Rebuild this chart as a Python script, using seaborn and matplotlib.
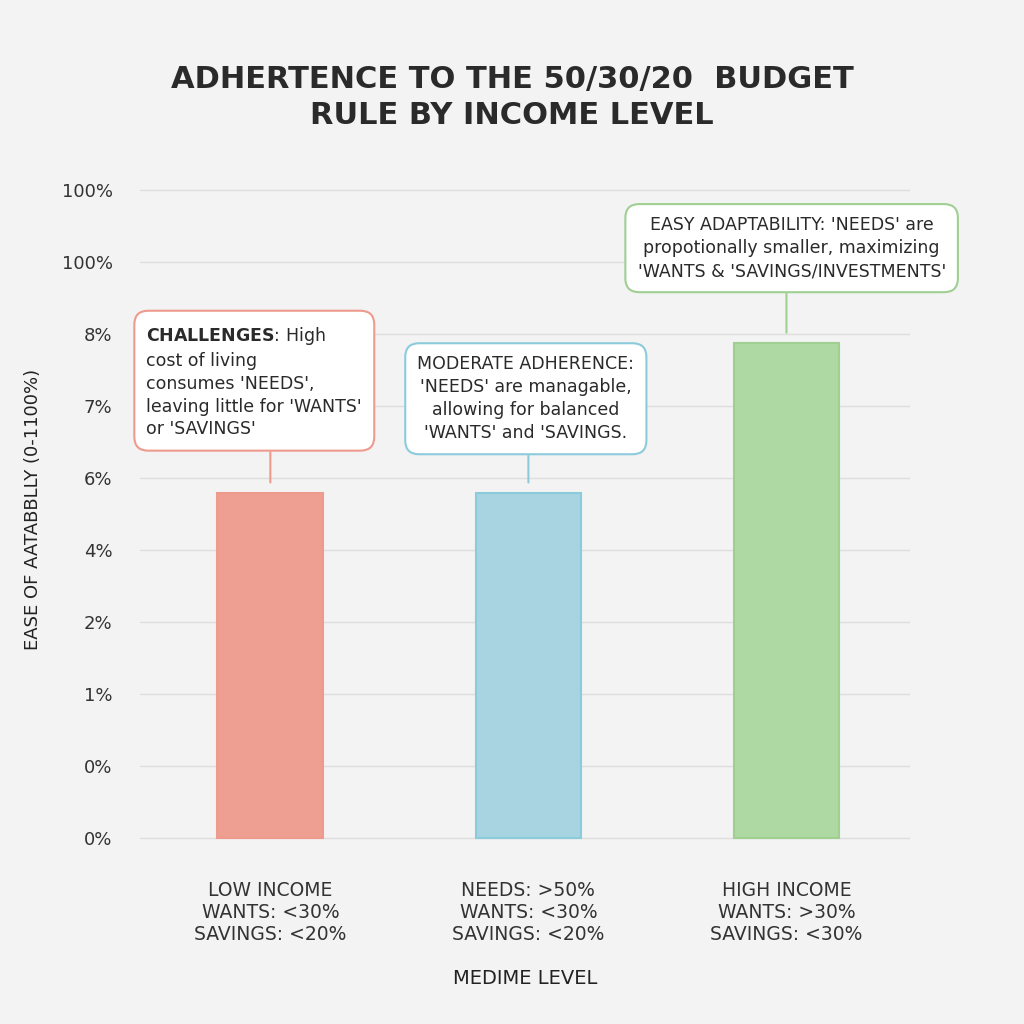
import matplotlib
matplotlib.use("Agg")
import matplotlib.pyplot as plt
import seaborn as sns
import pandas as pd

categories = ["LOW INCOME\nWANTS: <30%\nSAVINGS: <20%",
              "NEEDS: >50%\nWANTS: <30%\nSAVINGS: <20%",
              "HIGH INCOME\nWANTS: >30%\nSAVINGS: <30%"]
values = [4.8, 4.8, 6.88]
colors = ["#ef9f91", "#a8d4e1", "#aed9a2"]
edge_colors = ["#ee9a8c", "#8ccbdc", "#9fd092"]
tick_labels = ["0%", "0%", "1%", "2%", "4%", "6%", "7%", "8%", "100%", "100%"]
notes = [
    ("$\\bf{CHALLENGES}$: High\ncost of living\nconsumes 'NEEDS',\nleaving little for 'WANTS'\nor 'SAVINGS'", 5.55),
    ("MODERATE ADHERENCE:\n'NEEDS' are managable,\nallowing for balanced\n'WANTS' and 'SAVINGS.", 5.5),
    ("EASY ADAPTABILITY: 'NEEDS' are\npropotionally smaller, maximizing\n'WANTS & 'SAVINGS/INVESTMENTS'", 7.75),
]
text_x = [-0.48, 0.99, 2.02]

sns.set_theme(style="white")
plt.rcParams["font.family"] = ["DejaVu Sans"]
bg = "#f3f3f3"
fig = plt.figure(figsize=(10.24, 10.24), dpi=100, facecolor=bg)
ax = fig.add_axes([0.137, 0.18, 0.752, 0.645], facecolor=bg)

df = pd.DataFrame({"cat": categories, "val": values})
sns.barplot(data=df, x="cat", y="val", hue="cat", palette=colors, legend=False,
            width=0.41, saturation=1, ax=ax)
for p, ec in zip(ax.patches, edge_colors):
    p.set_edgecolor(ec); p.set_linewidth(1.5)

ax.set_ylim(-0.02, 9.15)
ax.set_yticks(range(len(tick_labels)))
ax.set_yticklabels(tick_labels, fontsize=13, color="#333333")
ax.tick_params(axis="x", labelsize=13.5, colors="#333333", length=0, pad=30)
ax.tick_params(axis="y", length=0, pad=20)
ax.grid(axis="y", color="#dedede", linewidth=1)
ax.set_axisbelow(True)
for s in ax.spines.values():
    s.set_visible(False)
ax.set_xlim(-0.504, 2.48)
ax.set_xlabel("MEDIME LEVEL", fontsize=14, color="#222222", labelpad=18)
ax.set_ylabel("EASE OF AATABBLLY (0-1100%)", fontsize=13, color="#222222", labelpad=14)

fig.text(0.5, 0.905, "ADHERTENCE TO THE 50/30/20  BUDGET\nRULE BY INCOME LEVEL",
         ha="center", va="center", fontsize=22, fontweight="bold", color="#2a2a2a",
         linespacing=1.3)

for i, ((txt, y), ec, x) in enumerate(zip(notes, edge_colors, text_x)):
    ax.annotate("", xy=(i, values[i] + 0.1), xytext=(i, y - 0.15),
                arrowprops=dict(arrowstyle="-", color=ec, lw=1.5))
    ax.text(x, y, txt, ha="left" if i == 0 else "center", va="bottom", fontsize=12.5,
            color="#2a2a2a", linespacing=1.35,
            bbox=dict(boxstyle="round,pad=0.7,rounding_size=0.8", fc="white",
                      ec=ec, lw=1.5))

fig.savefig("out.png", dpi=100, facecolor=bg)
